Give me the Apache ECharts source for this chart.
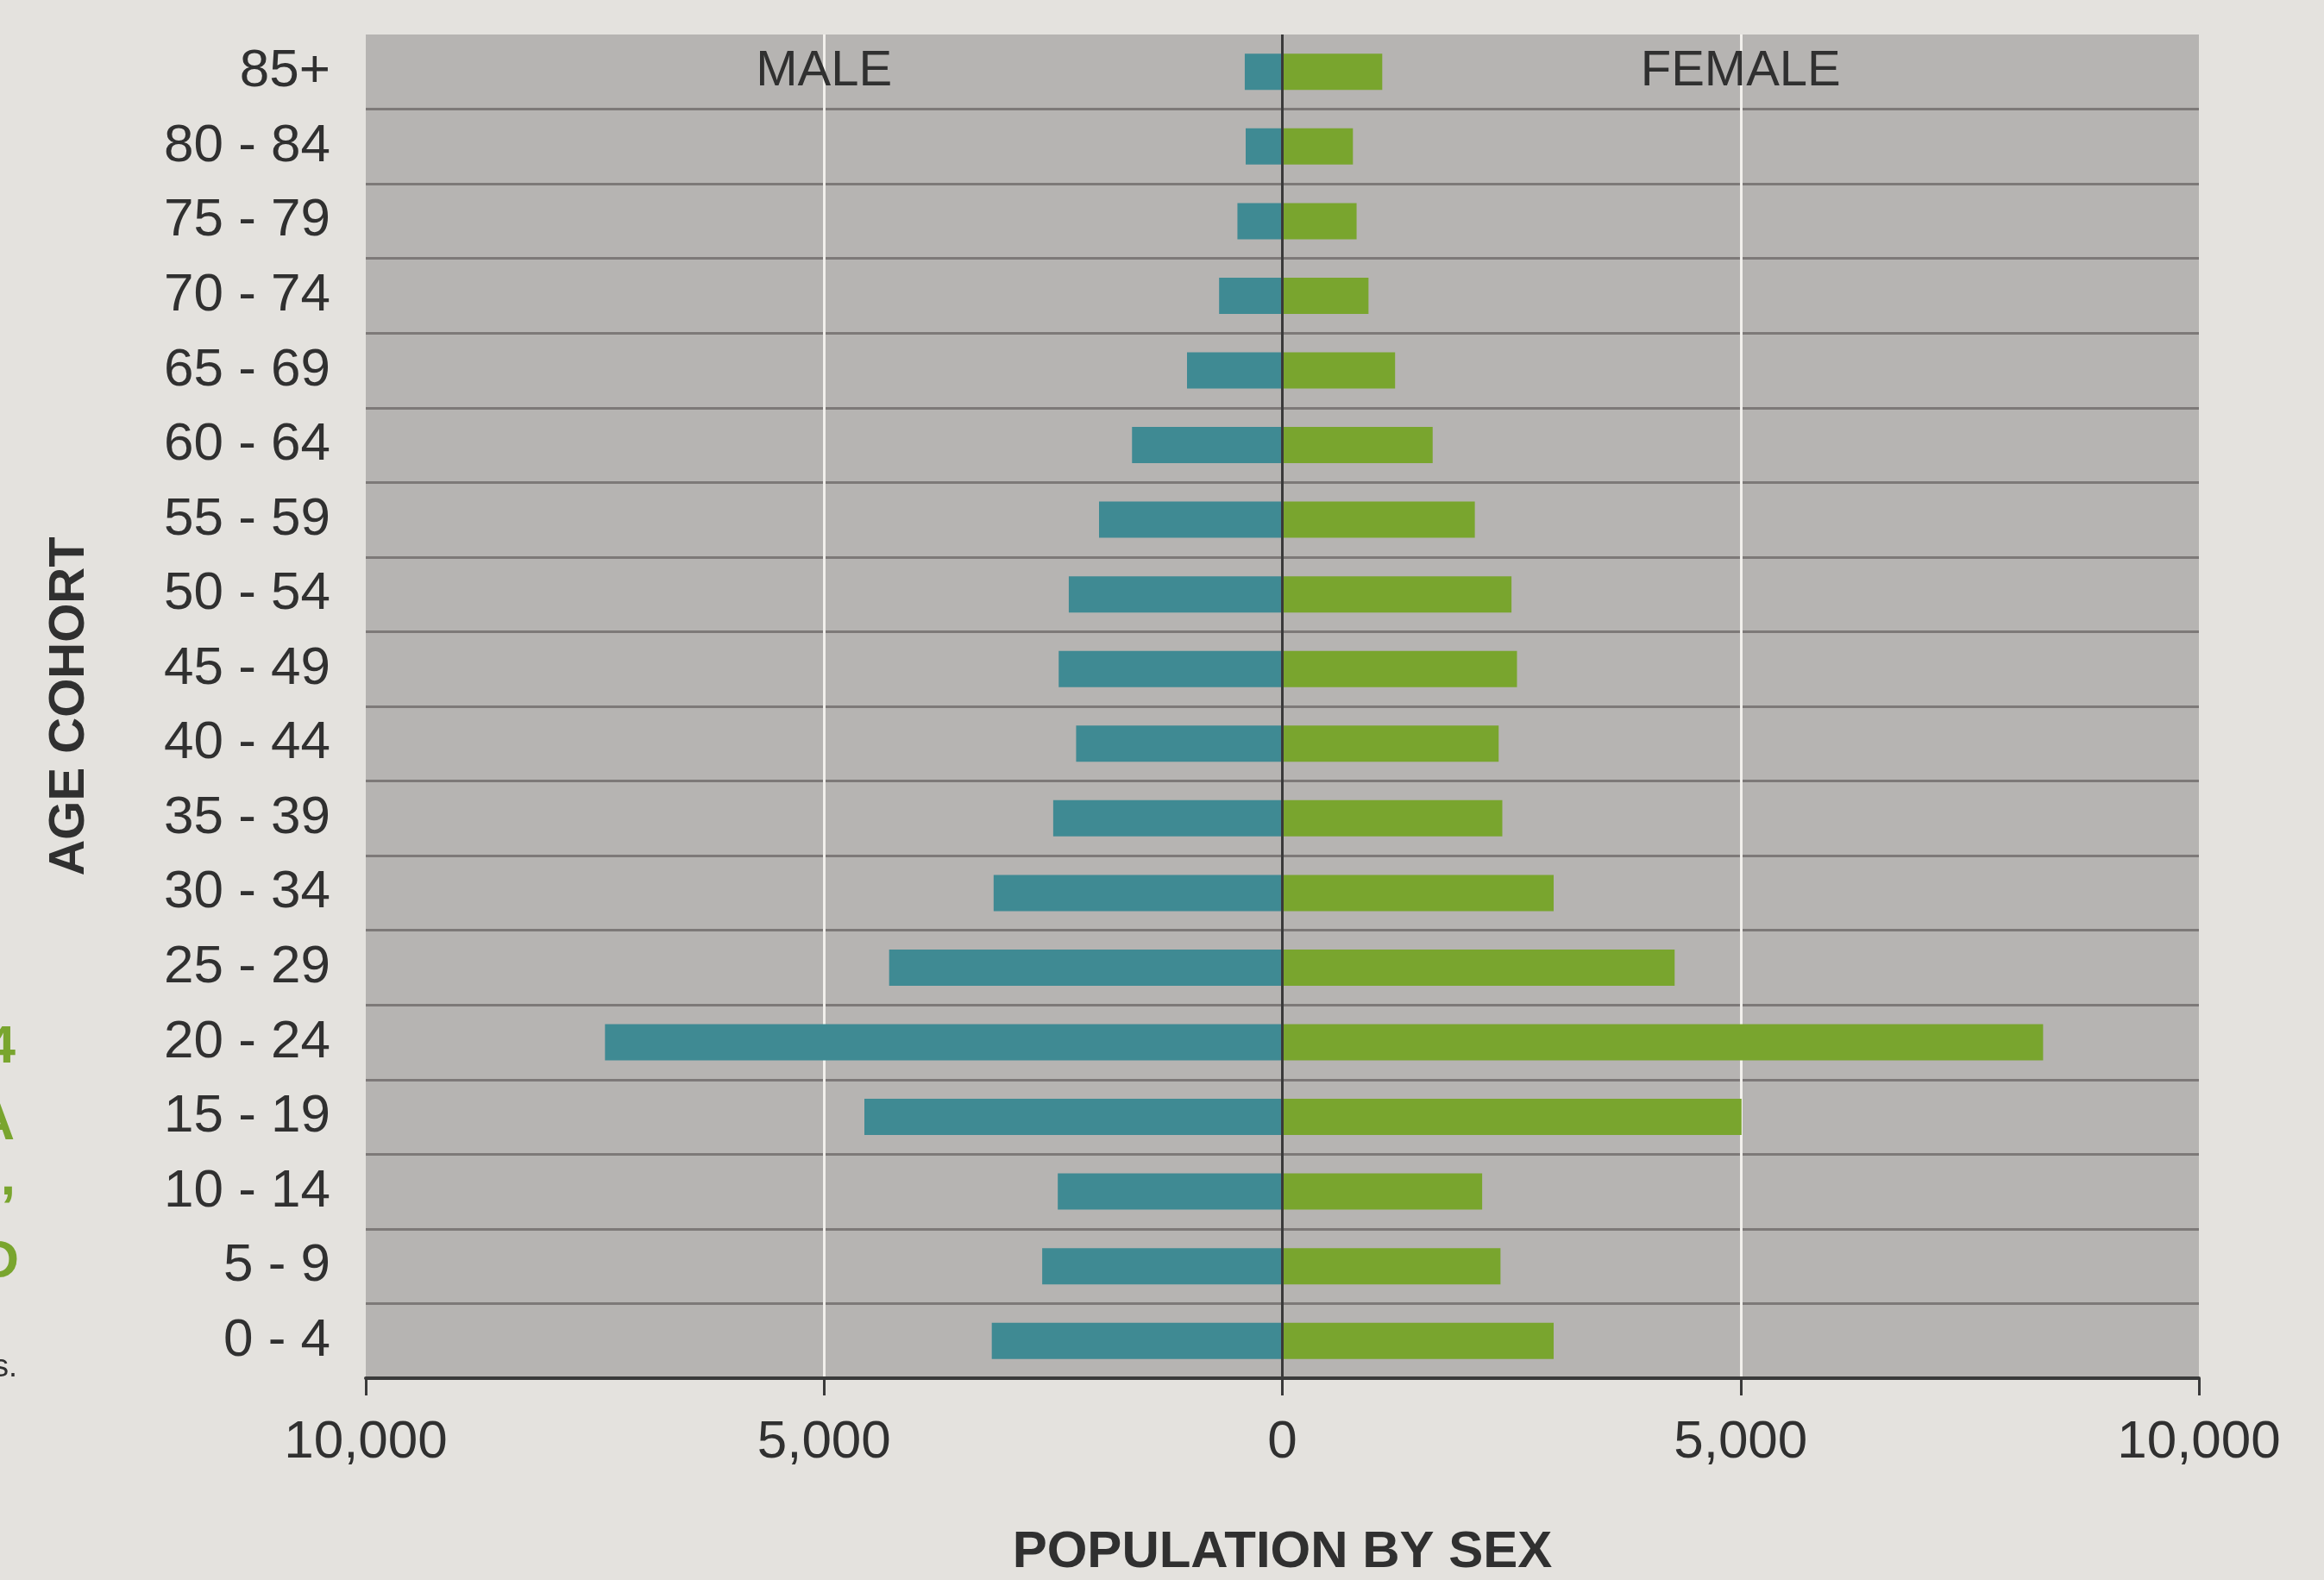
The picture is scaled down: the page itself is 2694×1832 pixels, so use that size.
<!DOCTYPE html>
<html>
<head>
<meta charset="utf-8">
<title>Population by sex and age cohort</title>
<script src="https://cdn.jsdelivr.net/npm/echarts@6/dist/echarts.min.js"></script>
<style>
  html, body { margin: 0; padding: 0; background: #e4e2de; }
  #chart { width: 2694px; height: 1832px; }
</style>
</head>
<body>
<div id="chart"></div>
<script>
// Age cohorts, listed bottom to top
const ageGroups = ['0 - 4', '5 - 9', '10 - 14', '15 - 19', '20 - 24', '25 - 29', '30 - 34',
  '35 - 39', '40 - 44', '45 - 49', '50 - 54', '55 - 59', '60 - 64', '65 - 69', '70 - 74',
  '75 - 79', '80 - 84', '85+'];

// Population counts per cohort
const malePop = [3170, 2620, 2450, 4560, 7390, 4290, 3150, 2500, 2250, 2440, 2330, 2000,
  1640, 1040, 690, 490, 400, 410];
const femalePop = [2960, 2380, 2180, 5010, 8300, 4280, 2960, 2400, 2360, 2560, 2500, 2100,
  1640, 1230, 940, 810, 770, 1090];

// Population axis (males drawn to the left of zero)
const popMin = -10000;
const popMax = 10000;
const popStep = 5000;

const textColor = '#303030';
const axisDark = '#3a3a3a';
const maleColor = '#3f8a93';
const femaleColor = '#79a52e';
const labelFont = '"Liberation Sans", Arial, sans-serif';

// Horizontal row separators: skip the one on the top edge of the plot
const rowLineColors = ageGroups.map(() => '#7d7978');
rowLineColors.unshift('rgba(0,0,0,0)');
rowLineColors[rowLineColors.length - 1] = 'rgba(0,0,0,0)';

const chart = echarts.init(document.getElementById('chart'), null, { renderer: 'canvas' });

chart.setOption({
  backgroundColor: '#e4e2de',
  animation: false,
  textStyle: { fontFamily: labelFont },
  grid: {
    left: 424, right: 145, top: 40, bottom: 234,
    outerBoundsMode: 'none',
    containLabel: false,
    show: true, backgroundColor: '#b6b4b2', borderWidth: 0
  },
  xAxis: {
    type: 'value',
    min: popMin,
    max: popMax,
    interval: popStep,
    name: 'POPULATION BY SEX',
    nameLocation: 'middle',
    nameGap: 172,
    nameTextStyle: { fontSize: 60, fontWeight: 'bold', color: textColor, fontFamily: labelFont },
    axisLine: { show: true, onZero: false, lineStyle: { color: axisDark, width: 4 } },
    axisTick: { show: true, length: 20, lineStyle: { color: axisDark, width: 3 } },
    axisLabel: {
      fontSize: 62, color: textColor, margin: 44,
      formatter: v => Math.abs(v).toLocaleString('en-US')
    },
    splitLine: {
      show: true,
      lineStyle: {
        width: 3,
        color: ['rgba(0,0,0,0)', '#f2f0ec', 'rgba(0,0,0,0)', '#f2f0ec', 'rgba(0,0,0,0)']
      }
    }
  },
  yAxis: {
    type: 'category',
    data: ageGroups,
    name: 'AGE COHORT',
    nameLocation: 'middle',
    nameGap: 314,
    nameTextStyle: { fontSize: 58, fontWeight: 'bold', color: textColor, fontFamily: labelFont },
    axisLine: { show: false },
    axisTick: { show: false },
    axisLabel: { fontSize: 62, color: textColor, margin: 41 },
    splitLine: { show: true, lineStyle: { color: rowLineColors, width: 3 } }
  },
  series: [
    {
      name: 'Male',
      type: 'bar',
      stack: 'pop',
      barWidth: 42,
      itemStyle: { color: maleColor },
      data: malePop.map(v => -v),
      markPoint: {
        silent: true,
        symbol: 'rect',
        symbolSize: 0,
        label: { show: true, formatter: 'MALE', fontSize: 58, color: textColor, position: 'inside' },
        data: [{ coord: [-popStep, ageGroups[ageGroups.length - 1]] }]
      }
    },
    {
      name: 'Female',
      type: 'bar',
      stack: 'pop',
      barWidth: 42,
      itemStyle: { color: femaleColor },
      data: femalePop,
      markPoint: {
        silent: true,
        symbol: 'rect',
        symbolSize: 0,
        label: { show: true, formatter: 'FEMALE', fontSize: 58, color: textColor, position: 'inside' },
        data: [{ coord: [popStep, ageGroups[ageGroups.length - 1]] }]
      },
      markLine: {
        silent: true,
        symbol: 'none',
        label: { show: false },
        lineStyle: { color: axisDark, width: 3, type: 'solid' },
        data: [{ xAxis: 0 }]
      }
    }
  ],
  // Edge of the neighbouring column's text, cut off by the page margin
  graphic: [
    { type: 'text', x: 18, y: 1215, style: { text: '2014', align: 'right', verticalAlign: 'middle', font: 'bold 62px ' + labelFont, fill: femaleColor } },
    { type: 'text', x: 17, y: 1304, style: { text: 'CA', align: 'right', verticalAlign: 'middle', font: 'bold 62px ' + labelFont, fill: femaleColor } },
    { type: 'text', x: 18, y: 1368, style: { text: 'D,', align: 'right', verticalAlign: 'middle', font: 'bold 62px ' + labelFont, fill: femaleColor } },
    { type: 'text', x: 22, y: 1464, style: { text: 'OLD', align: 'right', verticalAlign: 'middle', font: 'bold 62px ' + labelFont, fill: femaleColor } },
    { type: 'text', x: 20, y: 1604, style: { text: 'ages.', align: 'right', verticalAlign: 'bottom', font: '36px ' + labelFont, fill: textColor } }
  ]
});
</script>
</body>
</html>
